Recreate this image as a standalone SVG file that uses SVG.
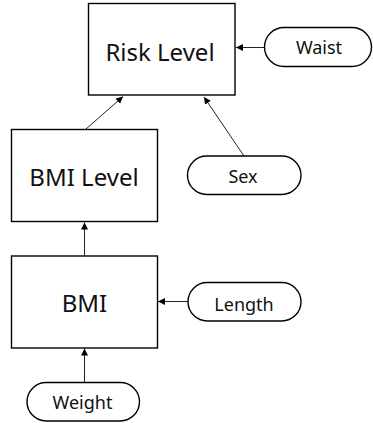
<svg xmlns="http://www.w3.org/2000/svg" width="373" height="423" viewBox="0 0 373 423">
<style>
.box{fill:#fff;stroke:#000;stroke-width:1.4}
.pill{fill:#fff;stroke:#000;stroke-width:1.4}
.big{font-family:"Noto Sans","DejaVu Sans",sans-serif;font-size:24px;fill:#111;text-anchor:middle}
.small{font-family:"Noto Sans","DejaVu Sans",sans-serif;font-size:18px;fill:#111;text-anchor:middle}
.edge{stroke:#222;stroke-width:1;fill:none;marker-end:url(#ah)}
</style>
<defs>
<marker id="ah" markerWidth="8" markerHeight="8" refX="7" refY="4" orient="auto" markerUnits="userSpaceOnUse">
<path d="M0,0.5 L7,4 L0,7.5 Z" fill="#000"/>
</marker>
</defs>
<rect width="373" height="423" fill="#fff"/>
<g id="connectors">
<line class="edge" x1="264" y1="47.5" x2="236" y2="47.5"/>
<line class="edge" x1="86" y1="129" x2="123" y2="96.5"/>
<line class="edge" x1="244" y1="156" x2="204" y2="97"/>
<line class="edge" x1="84.5" y1="256" x2="84.5" y2="222.5"/>
<line class="edge" x1="188" y1="301.5" x2="158" y2="301.5"/>
<line class="edge" x1="84.5" y1="382" x2="84.5" y2="348.5"/>
</g>
<g id="risk-level">
<rect class="box" x="88.5" y="3.5" width="146.5" height="91.5"/>
<text class="big" x="160" y="61">Risk Level</text>
</g>
<g id="waist">
<rect class="pill" x="264.5" y="27.5" width="107" height="39" rx="19.5"/>
<text class="small" x="319" y="54">Waist</text>
</g>
<g id="bmi-level">
<rect class="box" x="11.5" y="129.5" width="146" height="92"/>
<text class="big" x="84" y="185.5">BMI Level</text>
</g>
<g id="sex">
<rect class="pill" x="187.5" y="156" width="113.5" height="38.5" rx="19.25"/>
<text class="small" x="243" y="182.5">Sex</text>
</g>
<g id="bmi">
<rect class="box" x="11.5" y="256" width="146" height="92"/>
<text class="big" x="84.5" y="311.5">BMI</text>
</g>
<g id="length">
<rect class="pill" x="188" y="282.5" width="113" height="38.5" rx="19.25"/>
<text class="small" x="244" y="311">Length</text>
</g>
<g id="weight">
<rect class="pill" x="27" y="382.5" width="112.5" height="38.5" rx="19.25"/>
<text class="small" x="82.5" y="409">Weight</text>
</g>
</svg>
